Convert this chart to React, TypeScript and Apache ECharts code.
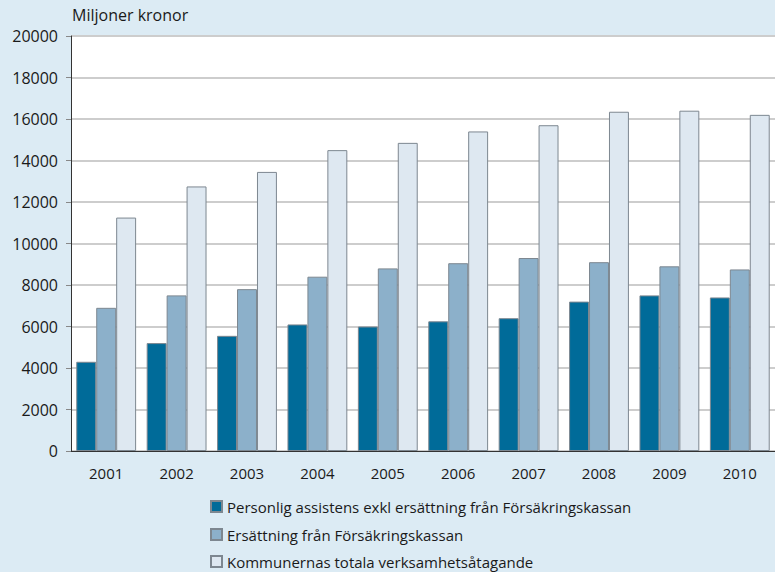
import React, { useEffect, useRef } from "react";
import * as echarts from "echarts";

const years = ["2001", "2002", "2003", "2004", "2005", "2006", "2007", "2008", "2009", "2010"];
const personligAssistens = [4300, 5200, 5550, 6100, 6000, 6250, 6400, 7200, 7500, 7400];
const ersattningFK = [6900, 7500, 7800, 8400, 8800, 9050, 9300, 9100, 8900, 8750];
const kommunernasTotala = [11250, 12750, 13450, 14500, 14850, 15400, 15700, 16350, 16400, 16200];

const seriesNames = [
  "Personlig assistens exkl ersättning från Försäkringskassan",
  "Ersättning från Försäkringskassan",
  "Kommunernas totala verksamhetsåtagande",
];
const colors = ["#006b99", "#8cb0ca", "#dee8f1"];
const legendTops = [494, 522, 549];

const FONT = "'Open Sans', 'DejaVu Sans', sans-serif";

export default function App() {
  const ref = useRef<HTMLDivElement>(null);
  useEffect(() => {
    if (!ref.current) return;
    const chart = echarts.init(ref.current, undefined, { renderer: "svg" });
    const datas = [personligAssistens, ersattningFK, kommunernasTotala];
    chart.setOption({
      animation: false,
      backgroundColor: "#dcebf4",
      textStyle: { fontFamily: FONT },
      graphic: [
        {
          type: "rect",
          shape: { x: 71, y: 35, width: 720, height: 416 },
          style: { fill: "#ffffff" },
          z: -10,
          silent: true,
        },
        {
          type: "text",
          left: 72,
          top: 7,
          style: { text: "Miljoner kronor", font: `16px ${FONT}`, fill: "#1a1a1a" },
        },
      ],
      grid: { left: 71, right: -7, top: 36, bottom: 121, containLabel: false },
      legend: seriesNames.map((name, i) => ({
        orient: "vertical",
        left: 205,
        top: legendTops[i],
        itemWidth: 11,
        itemHeight: 11,
        itemGap: 5,
        icon: "rect",
        textStyle: { fontFamily: FONT, fontSize: 15, color: "#1a1a1a" },
        data: [name],
      })),
      xAxis: {
        type: "category",
        data: years,
        axisLine: { lineStyle: { color: "#333333", width: 1 } },
        axisTick: { show: false },
        axisLabel: { fontFamily: FONT, fontSize: 15, color: "#1a1a1a", margin: 14 },
      },
      yAxis: {
        type: "value",
        min: 0,
        max: 20000,
        interval: 2000,
        axisLine: { show: true, lineStyle: { color: "#333333", width: 1 } },
        axisTick: { show: true, length: 5, lineStyle: { color: "#888888" } },
        axisLabel: {
          fontFamily: FONT,
          fontSize: 16,
          color: "#1a1a1a",
          margin: 13,
          formatter: (v: number) => String(v),
        },
        splitLine: { show: true, lineStyle: { color: "#bdbdbd", width: 1.5 } },
      },
      series: seriesNames.map((name, i) => ({
        name,
        type: "bar",
        data: datas[i],
        barGap: "0%",
        barCategoryGap: "15%",
        itemStyle: { color: colors[i], borderColor: "#7d8790", borderWidth: 1 },
      })),
    });
    return () => chart.dispose();
  }, []);
  return <div ref={ref} style={{ width: 775, height: 572, position: "absolute", left: 0, top: 0 }} />;
}
